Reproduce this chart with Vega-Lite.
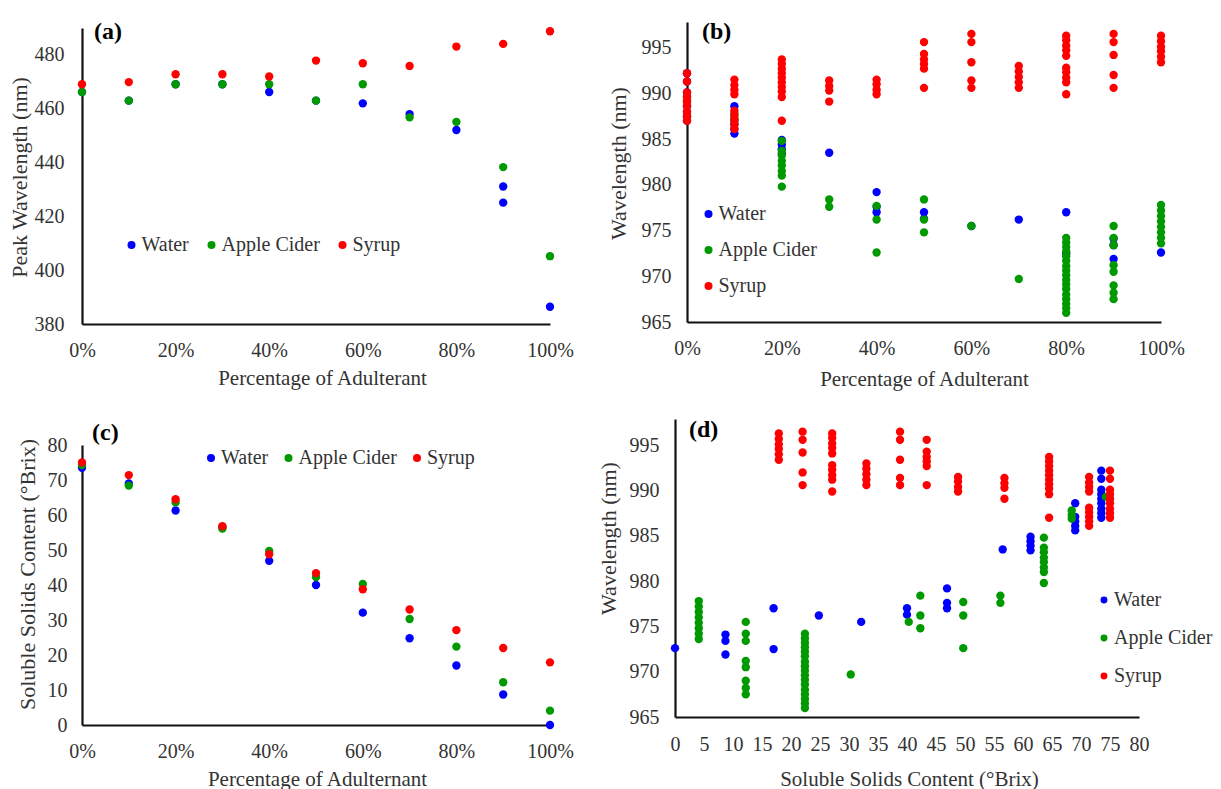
{
  "$schema": "https://vega.github.io/schema/vega-lite/v6.json",
  "background": "white",
  "padding": {"left": 8, "top": 20, "right": 0, "bottom": 0},
  "autosize": {"type": "pad"},
  "config": {
    "view": {"stroke": null},
    "font": "Liberation Serif",
    "axis": {"domainColor": "#111", "domainWidth": 2.2, "ticks": false, "tickSize": 0, "grid": false, "labelFlush": false, "labelOverlap": false, "labelFont": "Liberation Serif", "labelFontSize": 20, "labelColor": "#333", "titleFont": "Liberation Serif", "titleFontSize": 21, "titleFontWeight": "normal", "titleColor": "#333", "titleBaseline": "middle", "titleAlign": "center"},
    "legend": {"title": null, "orient": "none", "symbolType": "circle", "labelFont": "Liberation Serif", "labelFontSize": 20, "labelColor": "#333", "labelOffset": 0, "padding": 0},
    "title": {"font": "Liberation Serif", "fontSize": 24, "fontWeight": "bold", "color": "#000", "anchor": "start", "frame": "group"},
    "point": {"filled": true, "opacity": 1, "size": 70}
  },
  "datasets": {
    "pw": [
      {"a": "Water", "p": 0, "v": 466.2}, {"a": "Water", "p": 0.1, "v": 463}, {"a": "Water", "p": 0.2, "v": 469.1}, {"a": "Water", "p": 0.3, "v": 469.1}, {"a": "Water", "p": 0.4, "v": 466.2}, {"a": "Water", "p": 0.5, "v": 463}, {"a": "Water", "p": 0.6, "v": 462}, {"a": "Water", "p": 0.7, "v": 458}, {"a": "Water", "p": 0.8, "v": 452.1}, {"a": "Water", "p": 0.9, "v": 431.1}, {"a": "Water", "p": 0.9, "v": 425.1}, {"a": "Water", "p": 1, "v": 386.4},
      {"a": "Apple Cider", "p": 0, "v": 466.2}, {"a": "Apple Cider", "p": 0.1, "v": 463}, {"a": "Apple Cider", "p": 0.2, "v": 469.1}, {"a": "Apple Cider", "p": 0.3, "v": 469.1}, {"a": "Apple Cider", "p": 0.4, "v": 469.1}, {"a": "Apple Cider", "p": 0.5, "v": 463}, {"a": "Apple Cider", "p": 0.6, "v": 469.1}, {"a": "Apple Cider", "p": 0.7, "v": 456.8}, {"a": "Apple Cider", "p": 0.8, "v": 455.1}, {"a": "Apple Cider", "p": 0.9, "v": 438.3}, {"a": "Apple Cider", "p": 1, "v": 405.2},
      {"a": "Syrup", "p": 0, "v": 469.1}, {"a": "Syrup", "p": 0.1, "v": 469.9}, {"a": "Syrup", "p": 0.2, "v": 472.8}, {"a": "Syrup", "p": 0.3, "v": 472.8}, {"a": "Syrup", "p": 0.4, "v": 472}, {"a": "Syrup", "p": 0.5, "v": 477.9}, {"a": "Syrup", "p": 0.6, "v": 476.9}, {"a": "Syrup", "p": 0.7, "v": 475.9}, {"a": "Syrup", "p": 0.8, "v": 483.1}, {"a": "Syrup", "p": 0.9, "v": 484.1}, {"a": "Syrup", "p": 1, "v": 488.8}
    ],
    "g": [
      {"a": "Water", "p": 0, "b": 73.5, "w": [992.2, 991.3, 990.1, 989.6, 989.1, 988.6, 988.0, 987.5, 987.0]},
      {"a": "Water", "p": 0.1, "b": 69.0, "w": [988.6, 987.1, 986.6, 986.1, 985.6]},
      {"a": "Water", "p": 0.2, "b": 61.3, "w": [984.9, 984.4, 983.9, 983.4]},
      {"a": "Water", "p": 0.3, "b": 56.5, "w": [983.5]},
      {"a": "Water", "p": 0.4, "b": 46.9, "w": [979.2, 977.6, 977.0]},
      {"a": "Water", "p": 0.5, "b": 40.0, "w": [977.0, 976.3]},
      {"a": "Water", "p": 0.6, "b": 32.1, "w": [975.5]},
      {"a": "Water", "p": 0.7, "b": 24.8, "w": [976.2]},
      {"a": "Water", "p": 0.8, "b": 17.0, "w": [977.0, 972.5]},
      {"a": "Water", "p": 0.9, "b": 8.7, "w": [974.1, 973.4, 971.9]},
      {"a": "Water", "p": 1, "b": 0, "w": [972.6]},
      {"a": "Apple Cider", "p": 0, "b": 74.3, "w": [989.3]},
      {"a": "Apple Cider", "p": 0.1, "b": 68.4, "w": [987.8, 987.3, 986.9]},
      {"a": "Apple Cider", "p": 0.2, "b": 63.6, "w": [984.8, 983.7, 983.2, 982.6, 982.1, 981.5, 981.0, 979.8]},
      {"a": "Apple Cider", "p": 0.3, "b": 56.1, "w": [978.4, 977.6]},
      {"a": "Apple Cider", "p": 0.4, "b": 49.7, "w": [977.7, 976.2, 972.6]},
      {"a": "Apple Cider", "p": 0.5, "b": 42.3, "w": [978.4, 976.2, 974.8]},
      {"a": "Apple Cider", "p": 0.6, "b": 40.3, "w": [975.5]},
      {"a": "Apple Cider", "p": 0.7, "b": 30.3, "w": [969.7]},
      {"a": "Apple Cider", "p": 0.8, "b": 22.4, "w": [974.2, 973.7, 973.2, 972.7, 972.2, 971.7, 971.1, 970.6, 970.1, 969.6, 969.1, 968.6, 968.0, 967.5, 967.0, 966.5, 966.0]},
      {"a": "Apple Cider", "p": 0.9, "b": 12.2, "w": [975.5, 974.2, 973.4, 971.2, 970.5, 969.0, 968.2, 967.5]},
      {"a": "Apple Cider", "p": 1, "b": 4.1, "w": [977.8, 977.2, 976.6, 976.0, 975.4, 974.8, 974.2, 973.6]},
      {"a": "Syrup", "p": 0, "b": 75.0, "w": [992.2, 991.3, 990.1, 989.6, 989.1, 988.6, 988.0, 987.5, 987.0]},
      {"a": "Syrup", "p": 0.1, "b": 71.4, "w": [991.5, 990.9, 990.4, 989.9, 988.1, 987.6, 987.1, 986.6, 986.1]},
      {"a": "Syrup", "p": 0.2, "b": 64.5, "w": [993.7, 993.2, 992.7, 992.2, 991.7, 991.2, 990.7, 990.2, 989.6, 987.0]},
      {"a": "Syrup", "p": 0.3, "b": 56.8, "w": [991.4, 990.8, 990.3, 989.1]},
      {"a": "Syrup", "p": 0.4, "b": 48.8, "w": [991.5, 991.0, 990.4, 989.9]},
      {"a": "Syrup", "p": 0.5, "b": 43.4, "w": [995.6, 994.3, 993.7, 993.2, 992.7, 990.6]},
      {"a": "Syrup", "p": 0.6, "b": 38.8, "w": [996.5, 995.6, 993.4, 991.4, 990.6]},
      {"a": "Syrup", "p": 0.7, "b": 33.0, "w": [993.0, 992.4, 991.8, 991.2, 990.6]},
      {"a": "Syrup", "p": 0.8, "b": 27.1, "w": [996.3, 995.8, 995.2, 994.7, 994.1, 992.8, 992.3, 991.7, 991.2, 989.9]},
      {"a": "Syrup", "p": 0.9, "b": 22.0, "w": [996.5, 995.6, 994.2, 992.0, 990.6]},
      {"a": "Syrup", "p": 1, "b": 17.9, "w": [996.3, 995.7, 995.1, 994.6, 994.0, 993.4]}
    ]
  },
  "bounds": "full",
  "spacing": 22,
  "resolve": {"scale": {"x": "independent", "y": "independent", "color": "independent"}, "legend": {"color": "independent"}},
  "hconcat": [
    {
      "bounds": "flush",
      "spacing": 121,
      "resolve": {"scale": {"x": "independent", "y": "independent", "color": "independent"}, "legend": {"color": "independent"}},
      "vconcat": [
        {
          "width": 468, "height": 302,
          "title": {"text": "(a)", "dx": 12, "offset": -22},
          "data": {"name": "pw"},
          "mark": {"type": "point", "filled": true, "opacity": 1, "size": 70},
          "encoding": {
            "x": {"field": "p", "type": "quantitative", "scale": {"domain": [0, 1], "nice": false}, "axis": {"format": ".0%", "values": [0, 0.2, 0.4, 0.6, 0.8, 1], "title": "Percentage of Adulterant", "labelPadding": 16, "titleX": 240, "titleY": 54}},
            "y": {"field": "v", "type": "quantitative", "scale": {"domain": [380, 490], "nice": false, "zero": false, "range": [302, 6]}, "axis": {"values": [380, 400, 420, 440, 460, 480], "title": "Peak Wavelength (nm)", "labelPadding": 18, "titleX": -63, "titleY": 155, "titleAngle": -90, "titleFontSize": 22}},
            "color": {"field": "a", "type": "nominal", "scale": {"domain": ["Water", "Apple Cider", "Syrup"], "range": ["#0000ff", "#009a00", "#ff0000"]}, "legend": {"legendX": 39.5, "legendY": 213, "direction": "horizontal", "columns": 3, "columnPadding": 12, "symbolSize": 64}}
          }
        },
        {
          "width": 468, "height": 280,
          "title": {"text": "(c)", "dx": 10, "offset": -10},
          "data": {"name": "g"},
          "mark": {"type": "point", "filled": true, "opacity": 1, "size": 70},
          "encoding": {
            "x": {"field": "p", "type": "quantitative", "scale": {"domain": [0, 1], "nice": false}, "axis": {"format": ".0%", "values": [0, 0.2, 0.4, 0.6, 0.8, 1], "title": "Percentage of Adulternant", "labelPadding": 16, "titleX": 235, "titleY": 54}},
            "y": {"field": "b", "type": "quantitative", "scale": {"domain": [0, 80], "nice": false}, "axis": {"values": [0, 10, 20, 30, 40, 50, 60, 70, 80], "title": "Soluble Solids Content (°Brix)", "labelPadding": 15, "titleX": -55, "titleY": 129, "titleAngle": -90, "titleFontSize": 22}},
            "color": {"field": "a", "type": "nominal", "scale": {"domain": ["Water", "Apple Cider", "Syrup"], "range": ["#0000ff", "#009a00", "#ff0000"]}, "legend": {"legendX": 119, "legendY": 3, "direction": "horizontal", "columns": 3, "columnPadding": 9.5, "symbolSize": 64}}
          }
        }
      ]
    },
    {
      "bounds": "flush",
      "spacing": 97,
      "resolve": {"scale": {"x": "independent", "y": "independent", "color": "independent"}, "legend": {"color": "independent"}},
      "vconcat": [
        {
          "width": 486, "height": 300,
          "title": {"text": "(b)", "dx": 27, "offset": -22},
          "data": {"name": "g"},
          "transform": [{"flatten": ["w"]}],
          "mark": {"type": "point", "filled": true, "opacity": 1, "size": 70},
          "encoding": {
            "x": {"field": "p", "type": "quantitative", "scale": {"domain": [0, 1], "nice": false, "range": [12, 486]}, "axis": {"format": ".0%", "values": [0, 0.2, 0.4, 0.6, 0.8, 1], "title": "Percentage of Adulterant", "labelPadding": 16, "titleX": 249, "titleY": 57}},
            "y": {"field": "w", "type": "quantitative", "scale": {"domain": [965, 997.8], "nice": false, "zero": false}, "axis": {"values": [965, 970, 975, 980, 985, 990, 995], "title": "Wavelength (nm)", "offset": -12, "labelPadding": 16, "titleX": -69, "titleY": 141, "titleAngle": -90, "titleFontSize": 22}},
            "color": {"field": "a", "type": "nominal", "scale": {"domain": ["Water", "Apple Cider", "Syrup"], "range": ["#0000ff", "#009a00", "#ff0000"]}, "legend": {"legendX": 23.5, "legendY": 182, "direction": "vertical", "columns": 1, "rowPadding": 16, "symbolSize": 64}}
          }
        },
        {
          "width": 464, "height": 298,
          "title": {"text": "(d)", "dx": 14, "offset": -23},
          "data": {"name": "g"},
          "transform": [{"flatten": ["w"]}],
          "mark": {"type": "point", "filled": true, "opacity": 1, "size": 70},
          "encoding": {
            "x": {"field": "b", "type": "quantitative", "scale": {"domain": [0, 80], "nice": false}, "axis": {"values": [0, 5, 10, 15, 20, 25, 30, 35, 40, 45, 50, 55, 60, 65, 70, 75, 80], "title": "Soluble Solids Content (°Brix)", "labelPadding": 17, "titleX": 234, "titleY": 62}},
            "y": {"field": "w", "type": "quantitative", "scale": {"domain": [965, 997.9], "nice": false, "zero": false}, "axis": {"values": [965, 970, 975, 980, 985, 990, 995], "title": "Wavelength (nm)", "labelPadding": 16, "titleX": -67, "titleY": 119, "titleAngle": -90, "titleFontSize": 22}},
            "color": {"field": "a", "type": "nominal", "scale": {"domain": ["Water", "Apple Cider", "Syrup"], "range": ["#0000ff", "#009a00", "#ff0000"]}, "legend": {"legendX": 419, "legendY": 171, "direction": "vertical", "columns": 1, "rowPadding": 18, "symbolSize": 48, "labelFontSize": 20}}
          }
        }
      ]
    }
  ]
}
